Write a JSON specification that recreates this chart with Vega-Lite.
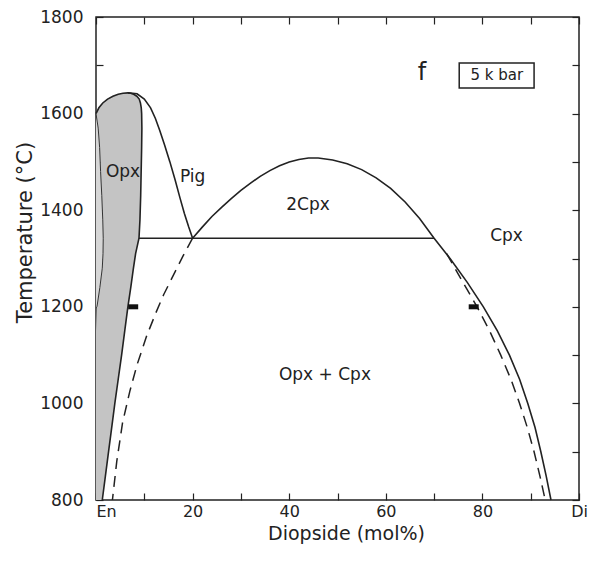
{
  "$schema": "https://vega.github.io/schema/vega-lite/v6.json",
  "width": 483,
  "height": 483,
  "autosize": {"type": "none"},
  "padding": {"left": 96, "top": 17, "right": 19, "bottom": 62},
  "background": "white",
  "config": {
    "view": {"stroke": "#222", "strokeWidth": 1.5},
    "font": "DejaVu Sans",
    "axis": {"grid": false, "domain": false, "tickColor": "#222", "tickWidth": 1.2, "labelColor": "#222", "titleColor": "#222", "labelFont": "DejaVu Sans", "titleFont": "DejaVu Sans", "titleFontWeight": "normal", "labelOverlap": false, "labelFlush": false}
  },
  "datasets": {
    "opx": [
      {"T": 800, "xl": 0, "xr": 1.3}, {"T": 850, "xl": 0, "xr": 1.95}, {"T": 900, "xl": 0, "xr": 2.6}, {"T": 950, "xl": 0, "xr": 3.25},
      {"T": 1000, "xl": 0, "xr": 3.9}, {"T": 1050, "xl": 0, "xr": 4.6}, {"T": 1100, "xl": 0, "xr": 5.3}, {"T": 1150, "xl": 0, "xr": 5.95},
      {"T": 1200, "xl": 0.2, "xr": 6.6}, {"T": 1240, "xl": 0.8, "xr": 7.2}, {"T": 1280, "xl": 1.3, "xr": 7.75}, {"T": 1310, "xl": 1.45, "xr": 8.2},
      {"T": 1342, "xl": 1.5, "xr": 8.9}, {"T": 1380, "xl": 1.4, "xr": 9.1}, {"T": 1430, "xl": 1.2, "xr": 9.25}, {"T": 1480, "xl": 0.95, "xr": 9.35},
      {"T": 1530, "xl": 0.75, "xr": 9.45}, {"T": 1570, "xl": 0.45, "xr": 9.5}, {"T": 1600, "xl": 0, "xr": 9.45}, {"T": 1612, "xl": 0.6, "xr": 9.37},
      {"T": 1622, "xl": 1.4, "xr": 9.2}, {"T": 1630, "xl": 2.4, "xr": 8.95}, {"T": 1636, "xl": 3.5, "xr": 8.45}, {"T": 1640, "xl": 4.6, "xr": 7.8},
      {"T": 1642, "xl": 5.6, "xr": 7.2}, {"T": 1643, "xl": 6.6, "xr": 6.6}
    ],
    "lens": [
      {"T": 1200, "x0": 0, "xl": 0.2}, {"T": 1240, "x0": 0, "xl": 0.8}, {"T": 1280, "x0": 0, "xl": 1.3}, {"T": 1310, "x0": 0, "xl": 1.45},
      {"T": 1342, "x0": 0, "xl": 1.5}, {"T": 1380, "x0": 0, "xl": 1.4}, {"T": 1430, "x0": 0, "xl": 1.2}, {"T": 1480, "x0": 0, "xl": 0.95},
      {"T": 1530, "x0": 0, "xl": 0.75}, {"T": 1570, "x0": 0, "xl": 0.45}, {"T": 1600, "x0": 0, "xl": 0}
    ],
    "curves": [
      {"c": "opx", "s": "solid", "i": 1, "x": 1.3, "T": 800}, {"c": "opx", "s": "solid", "i": 2, "x": 1.95, "T": 850}, {"c": "opx", "s": "solid", "i": 3, "x": 2.6, "T": 900},
      {"c": "opx", "s": "solid", "i": 4, "x": 3.25, "T": 950}, {"c": "opx", "s": "solid", "i": 5, "x": 3.9, "T": 1000}, {"c": "opx", "s": "solid", "i": 6, "x": 4.6, "T": 1050},
      {"c": "opx", "s": "solid", "i": 7, "x": 5.3, "T": 1100}, {"c": "opx", "s": "solid", "i": 8, "x": 5.95, "T": 1150}, {"c": "opx", "s": "solid", "i": 9, "x": 6.6, "T": 1200},
      {"c": "opx", "s": "solid", "i": 10, "x": 7.2, "T": 1240}, {"c": "opx", "s": "solid", "i": 11, "x": 7.75, "T": 1280}, {"c": "opx", "s": "solid", "i": 12, "x": 8.2, "T": 1310},
      {"c": "opx", "s": "solid", "i": 13, "x": 8.9, "T": 1342}, {"c": "opx", "s": "solid", "i": 14, "x": 9.1, "T": 1380}, {"c": "opx", "s": "solid", "i": 15, "x": 9.25, "T": 1430},
      {"c": "opx", "s": "solid", "i": 16, "x": 9.35, "T": 1480}, {"c": "opx", "s": "solid", "i": 17, "x": 9.45, "T": 1530}, {"c": "opx", "s": "solid", "i": 18, "x": 9.5, "T": 1570},
      {"c": "opx", "s": "solid", "i": 19, "x": 9.45, "T": 1600}, {"c": "opx", "s": "solid", "i": 20, "x": 9.37, "T": 1612}, {"c": "opx", "s": "solid", "i": 21, "x": 9.2, "T": 1622},
      {"c": "opx", "s": "solid", "i": 22, "x": 8.95, "T": 1630}, {"c": "opx", "s": "solid", "i": 23, "x": 8.45, "T": 1636}, {"c": "opx", "s": "solid", "i": 24, "x": 7.8, "T": 1640},
      {"c": "opx", "s": "solid", "i": 25, "x": 7.2, "T": 1642}, {"c": "opx", "s": "solid", "i": 26, "x": 6.6, "T": 1643}, {"c": "opx", "s": "solid", "i": 27, "x": 5.6, "T": 1642},
      {"c": "opx", "s": "solid", "i": 28, "x": 4.6, "T": 1640}, {"c": "opx", "s": "solid", "i": 29, "x": 3.5, "T": 1636}, {"c": "opx", "s": "solid", "i": 30, "x": 2.4, "T": 1630},
      {"c": "opx", "s": "solid", "i": 31, "x": 1.4, "T": 1622}, {"c": "opx", "s": "solid", "i": 32, "x": 0.6, "T": 1612}, {"c": "opx", "s": "solid", "i": 33, "x": 0, "T": 1600},
      {"c": "lens", "s": "thin", "i": 1, "x": 0, "T": 1600}, {"c": "lens", "s": "thin", "i": 2, "x": 0.45, "T": 1570}, {"c": "lens", "s": "thin", "i": 3, "x": 0.75, "T": 1530},
      {"c": "lens", "s": "thin", "i": 4, "x": 0.95, "T": 1480}, {"c": "lens", "s": "thin", "i": 5, "x": 1.2, "T": 1430}, {"c": "lens", "s": "thin", "i": 6, "x": 1.4, "T": 1380},
      {"c": "lens", "s": "thin", "i": 7, "x": 1.5, "T": 1342}, {"c": "lens", "s": "thin", "i": 8, "x": 1.45, "T": 1310}, {"c": "lens", "s": "thin", "i": 9, "x": 1.3, "T": 1280},
      {"c": "lens", "s": "thin", "i": 10, "x": 0.8, "T": 1240}, {"c": "lens", "s": "thin", "i": 11, "x": 0.2, "T": 1200},
      {"c": "pig", "s": "solid", "i": 1, "x": 6.6, "T": 1643}, {"c": "pig", "s": "solid", "i": 2, "x": 8.5, "T": 1641}, {"c": "pig", "s": "solid", "i": 3, "x": 10, "T": 1630},
      {"c": "pig", "s": "solid", "i": 4, "x": 11.3, "T": 1612}, {"c": "pig", "s": "solid", "i": 5, "x": 12.3, "T": 1590}, {"c": "pig", "s": "solid", "i": 6, "x": 13.2, "T": 1565},
      {"c": "pig", "s": "solid", "i": 7, "x": 14.2, "T": 1535}, {"c": "pig", "s": "solid", "i": 8, "x": 15.3, "T": 1500}, {"c": "pig", "s": "solid", "i": 9, "x": 16.4, "T": 1462},
      {"c": "pig", "s": "solid", "i": 10, "x": 17.4, "T": 1425}, {"c": "pig", "s": "solid", "i": 11, "x": 18.3, "T": 1393}, {"c": "pig", "s": "solid", "i": 12, "x": 19.2, "T": 1365},
      {"c": "pig", "s": "solid", "i": 13, "x": 20, "T": 1342},
      {"c": "dome", "s": "solid", "i": 1, "x": 20, "T": 1342}, {"c": "dome", "s": "solid", "i": 2, "x": 22, "T": 1365}, {"c": "dome", "s": "solid", "i": 3, "x": 24, "T": 1387},
      {"c": "dome", "s": "solid", "i": 4, "x": 26, "T": 1406}, {"c": "dome", "s": "solid", "i": 5, "x": 28, "T": 1424}, {"c": "dome", "s": "solid", "i": 6, "x": 30, "T": 1441},
      {"c": "dome", "s": "solid", "i": 7, "x": 32, "T": 1456}, {"c": "dome", "s": "solid", "i": 8, "x": 34, "T": 1470}, {"c": "dome", "s": "solid", "i": 9, "x": 36, "T": 1482},
      {"c": "dome", "s": "solid", "i": 10, "x": 38, "T": 1492}, {"c": "dome", "s": "solid", "i": 11, "x": 40, "T": 1500}, {"c": "dome", "s": "solid", "i": 12, "x": 42, "T": 1505},
      {"c": "dome", "s": "solid", "i": 13, "x": 44, "T": 1508}, {"c": "dome", "s": "solid", "i": 14, "x": 46, "T": 1508}, {"c": "dome", "s": "solid", "i": 15, "x": 49, "T": 1504},
      {"c": "dome", "s": "solid", "i": 16, "x": 52, "T": 1496}, {"c": "dome", "s": "solid", "i": 17, "x": 55, "T": 1484}, {"c": "dome", "s": "solid", "i": 18, "x": 58, "T": 1467},
      {"c": "dome", "s": "solid", "i": 19, "x": 61, "T": 1445}, {"c": "dome", "s": "solid", "i": 20, "x": 64, "T": 1417}, {"c": "dome", "s": "solid", "i": 21, "x": 67, "T": 1383},
      {"c": "dome", "s": "solid", "i": 22, "x": 70, "T": 1342}, {"c": "dome", "s": "solid", "i": 23, "x": 73.3, "T": 1300}, {"c": "dome", "s": "solid", "i": 24, "x": 76.9, "T": 1250},
      {"c": "dome", "s": "solid", "i": 25, "x": 80.2, "T": 1200}, {"c": "dome", "s": "solid", "i": 26, "x": 83.1, "T": 1150}, {"c": "dome", "s": "solid", "i": 27, "x": 85.6, "T": 1100},
      {"c": "dome", "s": "solid", "i": 28, "x": 87.7, "T": 1050}, {"c": "dome", "s": "solid", "i": 29, "x": 89.4, "T": 1000}, {"c": "dome", "s": "solid", "i": 30, "x": 90.9, "T": 950},
      {"c": "dome", "s": "solid", "i": 31, "x": 92.1, "T": 900}, {"c": "dome", "s": "solid", "i": 32, "x": 93.2, "T": 850}, {"c": "dome", "s": "solid", "i": 33, "x": 94.2, "T": 800},
      {"c": "tie", "s": "solid", "i": 1, "x": 8.9, "T": 1342}, {"c": "tie", "s": "solid", "i": 2, "x": 70, "T": 1342},
      {"c": "dR", "s": "dash", "i": 1, "x": 72.6, "T": 1310}, {"c": "dR", "s": "dash", "i": 2, "x": 76.0, "T": 1250}, {"c": "dR", "s": "dash", "i": 3, "x": 78.9, "T": 1200},
      {"c": "dR", "s": "dash", "i": 4, "x": 81.5, "T": 1150}, {"c": "dR", "s": "dash", "i": 5, "x": 83.8, "T": 1100}, {"c": "dR", "s": "dash", "i": 6, "x": 85.9, "T": 1050},
      {"c": "dR", "s": "dash", "i": 7, "x": 87.7, "T": 1000}, {"c": "dR", "s": "dash", "i": 8, "x": 89.3, "T": 950}, {"c": "dR", "s": "dash", "i": 9, "x": 90.7, "T": 900},
      {"c": "dR", "s": "dash", "i": 10, "x": 91.9, "T": 850}, {"c": "dR", "s": "dash", "i": 11, "x": 93.0, "T": 800},
      {"c": "dL", "s": "dash", "i": 1, "x": 20, "T": 1342}, {"c": "dL", "s": "dash", "i": 2, "x": 18, "T": 1305}, {"c": "dL", "s": "dash", "i": 3, "x": 16, "T": 1265},
      {"c": "dL", "s": "dash", "i": 4, "x": 14, "T": 1225}, {"c": "dL", "s": "dash", "i": 5, "x": 12.5, "T": 1190}, {"c": "dL", "s": "dash", "i": 6, "x": 10.5, "T": 1140},
      {"c": "dL", "s": "dash", "i": 7, "x": 8.5, "T": 1080}, {"c": "dL", "s": "dash", "i": 8, "x": 7, "T": 1025}, {"c": "dL", "s": "dash", "i": 9, "x": 5.5, "T": 960},
      {"c": "dL", "s": "dash", "i": 10, "x": 4.3, "T": 880}, {"c": "dL", "s": "dash", "i": 11, "x": 3.4, "T": 800}
    ]
  },
  "layer": [
    {
      "data": {"name": "opx"},
      "mark": {"type": "area", "orient": "horizontal", "color": "#c4c4c4"},
      "encoding": {
        "y": {"field": "T", "type": "quantitative", "scale": {"domain": [800, 1800], "nice": false},
          "axis": {"orient": "left", "values": [800, 900, 1000, 1100, 1200, 1300, 1400, 1500, 1600, 1700, 1800], "format": "d",
            "labelExpr": "datum.value % 200 == 0 ? datum.label : ''", "tickSize": -7, "labelPadding": 20, "labelFontSize": 17,
            "title": "Temperature (°C)", "titleFontSize": 21, "titleAngle": 270, "titleX": -65, "titleY": 215, "titleBaseline": "alphabetic", "titleAlign": "center"}},
        "x": {"field": "xl", "type": "quantitative", "scale": {"domain": [0, 100], "nice": false},
          "axis": {"orient": "bottom", "values": [0, 10, 20, 30, 40, 50, 60, 70, 80, 90, 100],
            "labelExpr": "datum.value == 0 ? 'En' : datum.value == 100 ? 'Di' : (datum.value % 20 == 0 ? datum.label : '')",
            "labelAlign": {"condition": {"test": "datum.value == 0", "value": "left"}, "value": "center"},
            "tickSize": -7, "labelPadding": 10, "labelFontSize": 16,
            "title": "Diopside (mol%)", "titleFontSize": 19, "titleX": 250, "titleY": 39, "titleBaseline": "alphabetic", "titleAlign": "center"}},
        "x2": {"field": "xr"}
      }
    },
    {
      "data": {"name": "lens"},
      "mark": {"type": "area", "orient": "horizontal", "color": "#d6d6d6"},
      "encoding": {
        "y": {"field": "T", "type": "quantitative", "axis": null},
        "x": {"field": "x0", "type": "quantitative", "axis": null},
        "x2": {"field": "xl"}
      }
    },
    {
      "data": {"name": "curves"},
      "transform": [{"filter": "datum.s == 'solid'"}],
      "mark": {"type": "line", "color": "#222", "strokeWidth": 1.6},
      "encoding": {
        "x": {"field": "x", "type": "quantitative",
          "axis": {"orient": "top", "values": [0, 10, 20, 30, 40, 50, 60, 70, 80, 90, 100], "labels": false, "tickSize": -7, "title": null}},
        "y": {"field": "T", "type": "quantitative",
          "axis": {"orient": "right", "values": [800, 900, 1000, 1100, 1200, 1300, 1400, 1500, 1600, 1700, 1800], "labels": false, "tickSize": -7, "title": null}},
        "detail": {"field": "c", "type": "nominal"},
        "order": {"field": "i", "type": "quantitative"}
      }
    },
    {
      "data": {"name": "curves"},
      "transform": [{"filter": "datum.s == 'thin'"}],
      "mark": {"type": "line", "color": "#333", "strokeWidth": 1},
      "encoding": {
        "x": {"field": "x", "type": "quantitative", "axis": null},
        "y": {"field": "T", "type": "quantitative", "axis": null},
        "detail": {"field": "c", "type": "nominal"},
        "order": {"field": "i", "type": "quantitative"}
      }
    },
    {
      "data": {"name": "curves"},
      "transform": [{"filter": "datum.s == 'dash'"}],
      "mark": {"type": "line", "color": "#222", "strokeWidth": 1.5, "strokeDash": [11, 7]},
      "encoding": {
        "x": {"field": "x", "type": "quantitative", "axis": null},
        "y": {"field": "T", "type": "quantitative", "axis": null},
        "detail": {"field": "c", "type": "nominal"},
        "order": {"field": "i", "type": "quantitative"}
      }
    },
    {
      "data": {"values": [{"x": 7.7, "T": 1200}, {"x": 78.2, "T": 1200}]},
      "mark": {"type": "tick", "orient": "horizontal", "size": 10, "thickness": 5, "color": "#111", "opacity": 1},
      "encoding": {
        "x": {"field": "x", "type": "quantitative", "axis": null},
        "y": {"field": "T", "type": "quantitative", "axis": null}
      }
    },
    {
      "data": {"values": [
        {"t": "Opx", "x": 5.6, "T": 1479}, {"t": "Pig", "x": 20, "T": 1469}, {"t": "2Cpx", "x": 43.9, "T": 1411},
        {"t": "Cpx", "x": 85, "T": 1347}, {"t": "Opx + Cpx", "x": 47.4, "T": 1059}
      ]},
      "mark": {"type": "text", "fontSize": 17, "color": "#222", "align": "center", "baseline": "middle", "font": "DejaVu Sans"},
      "encoding": {
        "x": {"field": "x", "type": "quantitative", "axis": null},
        "y": {"field": "T", "type": "quantitative", "axis": null},
        "text": {"field": "t", "type": "nominal"}
      }
    },
    {
      "data": {"values": [{"t": "f", "x": 67.5, "T": 1684}]},
      "mark": {"type": "text", "fontSize": 24, "color": "#222", "align": "center", "baseline": "middle", "font": "DejaVu Sans"},
      "encoding": {
        "x": {"field": "x", "type": "quantitative", "axis": null},
        "y": {"field": "T", "type": "quantitative", "axis": null},
        "text": {"field": "t", "type": "nominal"}
      }
    },
    {
      "data": {"values": [{"x1": 75.2, "x2": 90.7, "T1": 1653, "T2": 1705}]},
      "mark": {"type": "rect", "fill": "white", "fillOpacity": 0, "stroke": "#222", "strokeWidth": 1.5},
      "encoding": {
        "x": {"field": "x1", "type": "quantitative", "axis": null},
        "x2": {"field": "x2"},
        "y": {"field": "T1", "type": "quantitative", "axis": null},
        "y2": {"field": "T2"}
      }
    },
    {
      "data": {"values": [{"t": "5 k bar", "x": 83, "T": 1679}]},
      "mark": {"type": "text", "fontSize": 15, "color": "#222", "align": "center", "baseline": "middle", "font": "DejaVu Sans"},
      "encoding": {
        "x": {"field": "x", "type": "quantitative", "axis": null},
        "y": {"field": "T", "type": "quantitative", "axis": null},
        "text": {"field": "t", "type": "nominal"}
      }
    }
  ],
  "resolve": {"axis": {"x": "independent", "y": "independent"}}
}
